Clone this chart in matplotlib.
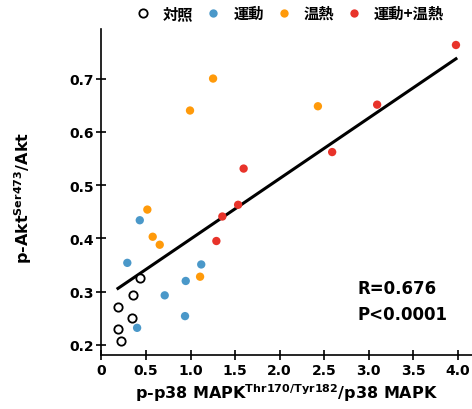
import numpy as np
import matplotlib
matplotlib.use("Agg")
import matplotlib.pyplot as plt
from matplotlib.lines import Line2D

plt.rcParams['font.family'] = ['DejaVu Sans', 'Noto Sans CJK JP']
plt.rcParams['font.weight'] = 'bold'
plt.rcParams['mathtext.fontset'] = 'dejavusans'
plt.rcParams['mathtext.default'] = 'bf'

# group labels and colours
groups = ["対照", "運動", "温熱", "運動+温熱"]
colors = ["none", "#4a98c9", "#ff9a0a", "#e8332a"]

# p-p38 MAPK / p38 MAPK (x) and p-Akt / Akt (y) per group
ctrl_x = [0.43, 0.357, 0.185, 0.346, 0.185, 0.223]
ctrl_y = [0.326, 0.293, 0.272, 0.251, 0.229, 0.208]
ex_x = [0.43, 0.29, 1.12, 0.946, 0.71, 0.938, 0.40]
ex_y = [0.434, 0.354, 0.351, 0.320, 0.293, 0.254, 0.232]
heat_x = [1.253, 0.994, 2.43, 0.515, 0.575, 0.654, 1.107]
heat_y = [0.700, 0.640, 0.648, 0.454, 0.403, 0.388, 0.328]
both_x = [3.98, 3.095, 2.59, 1.596, 1.534, 1.357, 1.29]
both_y = [0.763, 0.651, 0.562, 0.531, 0.463, 0.441, 0.395]

# regression line reported with the correlation
fit_slope = 0.1136
fit_intercept = 0.285
r_text = "R=0.676"
p_text = "P<0.0001"

xticks = [0, 0.5, 1.0, 1.5, 2.0, 2.5, 3.0, 3.5, 4.0]
yticks = [0.2, 0.3, 0.4, 0.5, 0.6, 0.7]

fig = plt.figure(figsize=(4.72, 4.10), dpi=100)
ax = fig.add_axes([0.215, 0.1317, 0.785, 0.7951])

all_x = np.array(ctrl_x + ex_x + heat_x + both_x)
lx = np.array([all_x.min(), all_x.max()])
ax.plot(lx, fit_slope * lx + fit_intercept, color="black", lw=2.2, zorder=2)

ms = 36
ax.scatter(ctrl_x, ctrl_y, s=ms, facecolors="white", edgecolors="black", linewidths=1.3, zorder=3)
ax.scatter(ex_x, ex_y, s=ms, color=colors[1], edgecolors="none", zorder=3)
ax.scatter(heat_x, heat_y, s=ms, color=colors[2], edgecolors="none", zorder=3)
ax.scatter(both_x, both_y, s=ms, color=colors[3], edgecolors="none", zorder=3)

ax.set_xlim(0, 4.16)
ax.set_ylim(0.181, 0.793)
ax.set_xticks(xticks)
ax.set_xticklabels([f"{v:.1f}" if v else "0" for v in xticks])
ax.set_yticks(yticks)
ax.set_yticklabels([f"{v:.1f}" for v in yticks])
ax.tick_params(direction="inout", length=7, width=1.2, labelsize=10, pad=2)
for s in ["top", "right"]:
    ax.spines[s].set_visible(False)
for s in ["left", "bottom"]:
    ax.spines[s].set_linewidth(1.2)

ax.set_xlabel(r"p-p38 MAPK$^{Thr170/Tyr182}$/p38 MAPK", fontsize=11.5, fontweight="bold", labelpad=3)
ax.set_ylabel(r"p-Akt$^{Ser473}$/Akt", fontsize=11.5, fontweight="bold")
ax.yaxis.set_label_coords(-0.183, 0.485)

ax.text(2.87, 0.307, r_text, fontsize=12, fontweight="bold", va="center")
ax.text(2.87, 0.258, p_text, fontsize=12, fontweight="bold", va="center")

handles = [
    Line2D([], [], ls="none", marker="o", ms=6, mfc="white", mec="black", mew=1.3),
    Line2D([], [], ls="none", marker="o", ms=6, mfc=colors[1], mec="none"),
    Line2D([], [], ls="none", marker="o", ms=6, mfc=colors[2], mec="none"),
    Line2D([], [], ls="none", marker="o", ms=6, mfc=colors[3], mec="none"),
]
fig.legend(handles, groups, loc="center", bbox_to_anchor=(0.612, 0.966), ncol=4,
           frameon=False, handletextpad=0.7, columnspacing=0.7, handlelength=1.2,
           prop={"family": ["Noto Sans CJK JP", "DejaVu Sans"], "weight": "bold", "size": 11})

fig.savefig("out.png", dpi=100)
